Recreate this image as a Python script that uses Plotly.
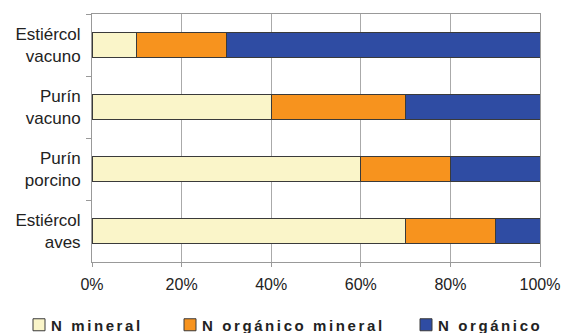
import plotly.graph_objects as go

categories = ["Estiércol<br>vacuno", "Purín<br>vacuno", "Purín<br>porcino", "Estiércol<br>aves"]
n_mineral = [0.10, 0.40, 0.60, 0.70]
n_org_mineral = [0.20, 0.30, 0.20, 0.20]
n_organico = [0.70, 0.30, 0.20, 0.10]
series_names = ["N mineral", "N orgánico mineral", "N orgánico"]
colors = ["#FAF5C9", "#F7931E", "#2F4CA3"]
x_ticks = [0, 0.2, 0.4, 0.6, 0.8, 1.0]

fig = go.Figure()
for i, (name, vals) in enumerate(zip(series_names, [n_mineral, n_org_mineral, n_organico])):
    fig.add_trace(go.Bar(
        y=categories, x=vals, name=name, orientation="h",
        marker=dict(color=colors[i], line=dict(color="#3a3a3a", width=1)),
        legend="legend" if i == 0 else f"legend{i+1}",
    ))

legend_common = dict(
    orientation="h", xref="container", yref="container", xanchor="left", yanchor="middle",
    font=dict(family="Liberation Sans, Arial, sans-serif", size=15, color="#222", weight="bold"),
    bgcolor="rgba(0,0,0,0)", itemclick=False,
)
y_leg = 1 - 325 / 333
fig.update_layout(
    barmode="stack",
    bargap=0.585,
    width=561, height=333,
    margin=dict(l=92, r=21, t=14, b=71, autoexpand=False),
    paper_bgcolor="white", plot_bgcolor="white",
    showlegend=True,
    legend=dict(x=19 / 561, y=y_leg, **legend_common),
    legend2=dict(x=170 / 561, y=y_leg, **legend_common),
    legend3=dict(x=406 / 561, y=y_leg, **legend_common),
    xaxis=dict(
        range=[0, 1], tickvals=x_ticks, tickformat=".0%",
        showgrid=True, gridcolor="#aaaaaa", gridwidth=1,
        showline=True, linecolor="#999999", mirror=True,
        ticks="outside", ticklen=4, tickcolor="#999999",
        tickfont=dict(family="Liberation Sans, Arial, sans-serif", size=16, color="#222"),
        ticklabelstandoff=4, zeroline=False, ticklabeloverflow="allow", automargin=False,
    ),
    yaxis=dict(
        categoryorder="array", categoryarray=categories, autorange="reversed",
        showline=True, linecolor="#999999", mirror=True,
        ticks="outside", ticklen=5, tickcolor="#999999", tickson="boundaries",
        showgrid=False, automargin=False,
        tickfont=dict(family="Liberation Sans, Arial, sans-serif", size=17, color="#222"),
        ticklabelstandoff=7,
    ),
)

post = """
var gd = document.getElementsByClassName('plotly-graph-div')[0];
function fixLegend(){
  document.querySelectorAll('.legendtext, .legend2text, .legend3text').forEach(function(e){
    if (e.style.letterSpacing !== '2.6px') { e.style.letterSpacing = '2.6px'; }
    if (e.getAttribute('x') !== '32') { e.setAttribute('x', '32'); }
  });
  document.querySelectorAll('.legend [clip-path], .legend2 [clip-path], .legend3 [clip-path]').forEach(function(e){
    e.removeAttribute('clip-path');
  });
}
fixLegend();
if (gd) {
  var obs = new MutationObserver(function(){ fixLegend(); });
  obs.observe(gd, {subtree: true, childList: true, attributes: true});
  if (gd.on) { gd.on('plotly_afterplot', fixLegend); }
}
var n = 0;
var iv = setInterval(function(){ fixLegend(); n++; if (n > 40) clearInterval(iv); }, 25);
"""
fig.write_html("out.html", post_script=post)
